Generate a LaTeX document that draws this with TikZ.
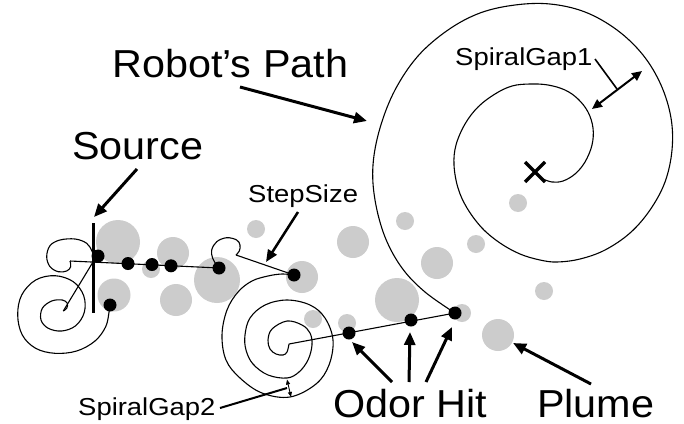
\documentclass[tikz,border=0pt]{standalone}
\usepackage{fontspec}
\setmainfont{Liberation Sans}
\newfontfamily\bigfont[FakeStretch=1.06]{Liberation Sans}
\newfontfamily\smallfont[FakeStretch=1.12]{Liberation Sans}
\usetikzlibrary{arrows.meta}
\definecolor{plumegray}{RGB}{204,204,204}
\tikzset{
  blob/.style={fill=plumegray,draw=none},
  hit/.style={circle,fill=black,inner sep=0pt,minimum size=13pt},
  robotpath/.style={line width=1.1pt,line join=round},
  bigarrow/.style={line width=3pt,-{Triangle[length=13pt,width=11pt]}},
  biglabel/.style={inner sep=0pt,anchor=base west,font=\bigfont\fontsize{39}{45}\selectfont},
  smalllabel/.style={inner sep=0pt,anchor=base west,font=\smallfont\fontsize{24.5}{28}\selectfont},
}
\begin{document}
\begin{tikzpicture}[x=1pt,y=-1pt]
\useasboundingbox (0,0) rectangle (684,423);
% plume
\foreach \x/\y/\r in {118/242/22,173/253/16,151/269/9,114/295/16.5,176/300/16,217/280/23,256/229/9,302/277/16,313/319/9,353/242/16,405/221/9,476/244/9,437/263/16,397/300/22,347/323/9,462/313/9,498/335/16,518/203/9,544/291/9}
  \fill[blob] (\x,\y) circle (\r);
% right spiral
\draw[robotpath] plot[smooth,tension=0.6] coordinates {(543,179) (552,182) (563,181) (575,174) (585,162) (592,145) (593,128) (588,112) (578,99) (565,90) (548,85) (530,84) (512,86) (495,94) (478,107) (465,124) (456,145) (454,165) (458,188) (467,208) (482,228) (500,243) (520,254) (540,260) (557,262) (580,259) (605,250) (630,233) (650,210) (665,182) (672,150) (671,118) (661,85) (643,55) (617,30) (585,12) (550,4) (515,5) (480,13) (448,30) (418,56) (395,90) (380,128) (373,165) (375,200) (385,237) (402,268) (425,292) (455,313)};
% middle spiral
\draw[robotpath] plot[smooth,tension=0.6] coordinates {(289,344) (287,352) (283,355) (276,354) (270,349) (268,340) (272,329) (287,321) (302,325) (310,333) (312,345) (308,360) (299,372) (287,378) (268,375) (253,364) (246,350) (245,335) (250,318) (265,305) (287,300) (310,305) (325,318) (333,340) (329,365) (316,384) (290,397) (262,393) (240,378) (226,360) (222,335) (227,310) (238,292) (252,281) (268,276) (282,274) (294,275)};
% small hook near StepSize
\draw[robotpath] plot[smooth,tension=0.6] coordinates {(236,255) (239.3,251) (240,245) (236.7,240) (226.7,237.7) (216.7,241.7) (211.7,250) (212.7,258.3) (216.7,265) (219.3,268)};
% top-left hook
\draw[robotpath] plot[smooth,tension=0.6] coordinates {(70,261) (70.7,266.7) (66.7,271) (58.3,271.7) (50,266.7) (46.7,256.7) (50,245.7) (60,240) (75,239) (86.7,243.3) (92.3,251.7) (94.3,260)};
% lower-left spiral
\draw[robotpath] plot[smooth,tension=0.6] coordinates {(63.3,311) (66.7,308.3) (67.3,303.3) (62.3,300) (51.7,301) (42.3,308.3) (41,320) (48.3,328.3) (61.7,331) (75.7,325.7) (84.3,312.3) (83.7,295.7) (73.3,281.7) (55,275.7) (35.7,280) (21.7,295) (17.7,315) (22.3,335) (35.7,348.3) (55,353.3) (76.7,351) (95,341) (105.7,326.7) (109,312.3) (110,305)};
% odor hits
\node[hit] (h1) at (98,256) {};
\node[hit] (h2) at (128,263.5) {};
\node[hit] (h3) at (152,264.5) {};
\node[hit] (h4) at (171,265.8) {};
\node[hit] (h5) at (219,268) {};
\node[hit] (h6) at (294,275) {};
\node[hit] (h7) at (110,305) {};
\node[hit] (h8) at (349,333) {};
\node[hit] (h9) at (411,320) {};
\node[hit] (h10) at (455,313) {};
\coordinate (hookend) at (70,261);
\coordinate (cross) at (93,262);
\coordinate (diagend) at (63.3,311);
\coordinate (midstart) at (289,344);
\coordinate (stepend) at (236,255);
% straight path legs
\draw[robotpath] (h5.center) -- (hookend);
\draw[robotpath] (cross) -- (diagend);
\draw[robotpath] (h10.center) -- (midstart);
\draw[robotpath] (h6.center) -- (stepend);
% source bar
\coordinate (bartop) at (93,223);
\coordinate (barbot) at (93,313);
\draw[line width=3pt] (bartop) -- (barbot);
% X
\draw[line width=3.5pt] (525,162) -- (545,182) (545,162) -- (525,182);
% labels
\node[biglabel] (robot) at (112,77) {Robot’s Path};
\node[biglabel] (source) at (72,159) {Source};
\node[biglabel] (odor) at (333,417.5) {Odor Hit};
\node[biglabel] (plume) at (537,417.5) {Plume};
\node[smalllabel] (step) at (248,202) {StepSize};
\node[smalllabel] (gap1) at (455,65) {SpiralGap1};
\node[smalllabel] (gap2) at (78,415) {SpiralGap2};
% arrows
\coordinate (ra) at (240,87); \coordinate (rb) at (367,121);
\draw[bigarrow] (ra) -- (rb);
\coordinate (sa) at (137,169); \coordinate (sb) at (94,217);
\draw[bigarrow] (sa) -- (sb);
\coordinate (sta) at (298,212); \coordinate (stb) at (266,262);
\draw[line width=2.5pt,-{Triangle[length=12pt,width=10pt]}] (sta) -- (stb);
\coordinate (o1) at (392,382); \coordinate (o2) at (409,382); \coordinate (o3) at (426,382);
\draw[bigarrow] (o1) -- (352,342);
\draw[bigarrow] (o2) -- (410,332);
\draw[bigarrow] (o3) -- (452,327);
\coordinate (pa) at (591,384);
\draw[bigarrow] (pa) -- (513,343);
% SpiralGap1
\coordinate (g1a) at (595,59); \coordinate (g1b) at (617,89);
\draw[line width=1.6pt] (g1a) -- (g1b);
\coordinate (g1c) at (592,109); \coordinate (g1d) at (642,71);
\draw[line width=2pt,{Triangle[length=10pt,width=9pt]}-{Triangle[length=10pt,width=9pt]}] (g1c) -- (g1d);
% SpiralGap2
\coordinate (g2a) at (220,408); \coordinate (g2b) at (287,388);
\draw[line width=2pt] (g2a) -- (g2b);
\coordinate (g2c) at (287,379.5); \coordinate (g2d) at (291,397);
\draw[line width=0.9pt,{Triangle[length=5pt,width=4pt]}-{Triangle[length=5pt,width=4pt]}] (g2c) -- (g2d);
\end{tikzpicture}
\end{document}
